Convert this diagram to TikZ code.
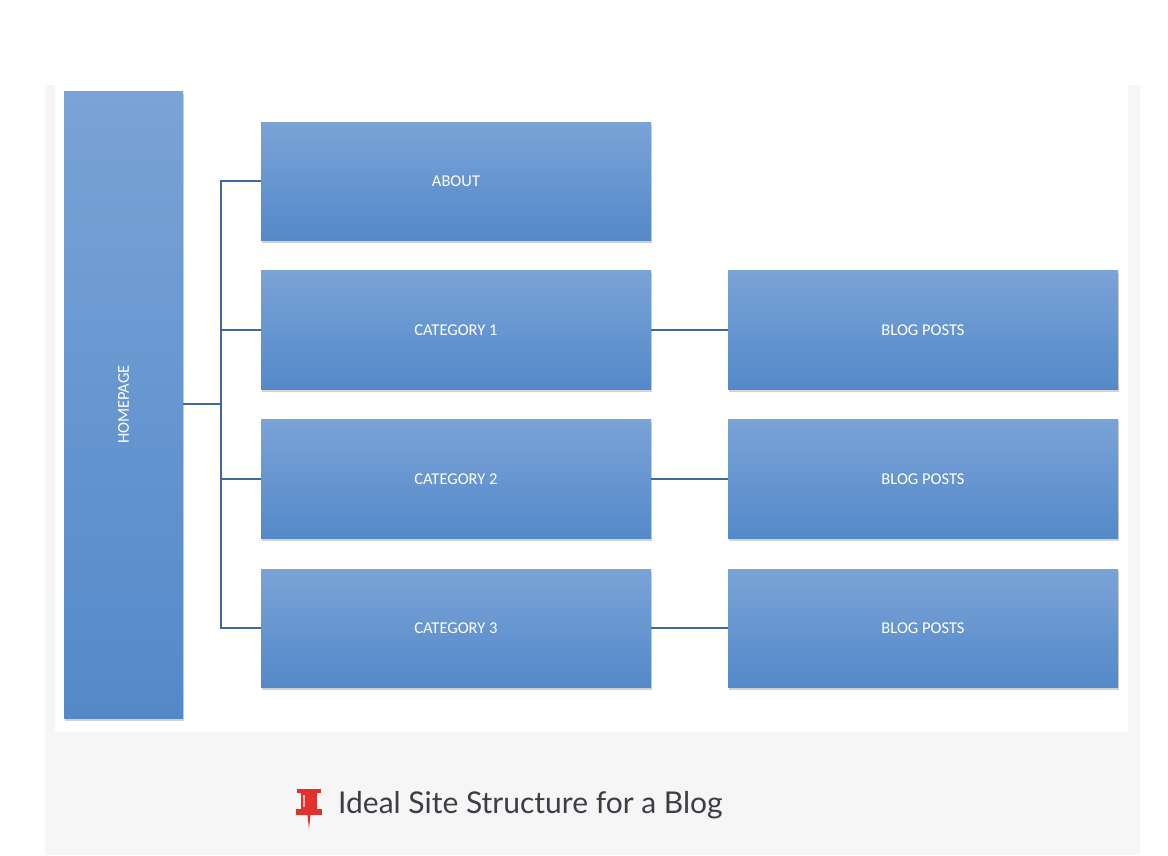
\documentclass[tikz,border=0pt]{standalone}
\usepackage{fontspec}
\setmainfont{Carlito}
\newfontfamily\capfont{Lato}
\usetikzlibrary{shadows}
\definecolor{btop}{HTML}{7AA3D7}
\definecolor{bbot}{HTML}{5489C9}
\definecolor{panel}{HTML}{F6F6F7}
\definecolor{linec}{HTML}{3E6A99}
\definecolor{capc}{HTML}{3D3D45}
\definecolor{pinred}{HTML}{E0312E}
\tikzset{
  box/.style={rectangle, draw=none, top color=btop, bottom color=bbot, text=white,
    font=\fontsize{16.5}{18}\selectfont, drop shadow={shadow xshift=1pt, shadow yshift=-2.5pt, opacity=0.35}},
  conn/.style={draw=linec, line width=1.2pt}
}
\begin{document}
\begin{tikzpicture}[x=1pt,y=-1pt]
\useasboundingbox (0,0) rectangle (1168,855);
\fill[white] (0,0) rectangle (1168,855);
\fill[panel] (45,85) rectangle (1140,855);
\fill[white] (55,85) rectangle (1128,732);
\node[box, minimum width=119pt, minimum height=627pt] (home) at (123.5,404.5) {};
\node[white, rotate=90, font=\fontsize{16.5}{18}\selectfont] at (home.center) {HOMEPAGE};
\node[box, minimum width=390pt, minimum height=118pt] (about) at (456,181) {ABOUT};
\node[box, minimum width=390pt, minimum height=119pt] (c1) at (456,330) {CATEGORY 1};
\node[box, minimum width=390pt, minimum height=119pt] (c2) at (456,479) {CATEGORY 2};
\node[box, minimum width=390pt, minimum height=118pt] (c3) at (456,628) {CATEGORY 3};
\node[box, minimum width=390pt, minimum height=119pt] (b1) at (923,330) {BLOG POSTS};
\node[box, minimum width=390pt, minimum height=119pt] (b2) at (923,479) {BLOG POSTS};
\node[box, minimum width=390pt, minimum height=118pt] (b3) at (923,628) {BLOG POSTS};
\coordinate (j) at (221,404);
\draw[conn] (home.east |- j) -- (j);
\draw[conn] (about.west) -| (j);
\draw[conn] (c3.west) -| (j);
\draw[conn] (c1.west) -- (c1.west -| j);
\draw[conn] (c2.west) -- (c2.west -| j);
\draw[conn] (c1.east) -- (b1.west);
\draw[conn] (c2.east) -- (b2.west);
\draw[conn] (c3.east) -- (b3.west);
% pin
\fill[pinred] (297,789) rectangle (321,793);
\fill[pinred] (301,793) rectangle (317,809);
\fill[pinred] (296,809) rectangle (322,815);
\fill[pinred] (307.5,815) -- (310.5,815) -- (309,829) -- cycle;
\fill[white,opacity=0.6] (303,795) rectangle (305,807);
\node[anchor=west, text=capc, font=\capfont\fontsize{30}{34}\selectfont, inner sep=0] (cap) at (338,805) {Ideal Site Structure for a Blog};
\end{tikzpicture}
\end{document}
